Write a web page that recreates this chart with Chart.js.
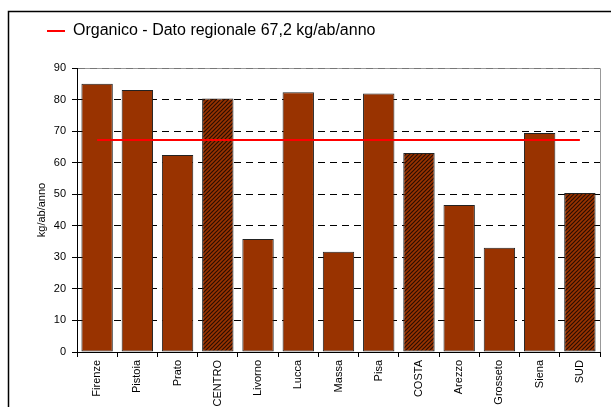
<!DOCTYPE html>
<html>
<head>
<meta charset="utf-8">
<script src="https://cdn.jsdelivr.net/npm/chart.js@4/dist/chart.umd.min.js"></script>
<style>
  html, body { margin: 0; padding: 0; background: #fff; }
  #wrap { position: relative; width: 611px; height: 407px; }
</style>
</head>
<body>
<div id="wrap"><canvas id="chart"></canvas></div>
<script>
const CATEGORIES = ['Firenze','Pistoia','Prato','CENTRO','Livorno','Lucca','Massa','Pisa','COSTA','Arezzo','Grosseto','Siena','SUD'];
const ORGANICO = [85, 83, 62.4, 80.3, 35.8, 82.3, 31.8, 81.9, 63.1, 46.6, 33.0, 69.4, 50.4];
const AREE = ['CENTRO', 'COSTA', 'SUD'];
const DATO_REGIONALE = 67.2;
const Y_TICKS = [0, 10, 20, 30, 40, 50, 60, 70, 80, 90];

const BROWN = '#993300';

// hatch pattern for the area totals
function hatch() {
  const c = document.createElement('canvas');
  c.width = 4; c.height = 4;
  const g = c.getContext('2d');
  g.fillStyle = BROWN;
  g.fillRect(0, 0, 4, 4);
  g.strokeStyle = '#2b0e00';
  g.lineWidth = 1.2;
  g.beginPath();
  g.moveTo(0, 4); g.lineTo(4, 0);
  g.moveTo(-1, 1); g.lineTo(1, -1);
  g.moveTo(3, 5); g.lineTo(5, 3);
  g.stroke();
  return g.createPattern(c, 'repeat');
}
const HATCH = hatch();

const frame = {
  id: 'frame',
  beforeDraw(chart) {
    const { ctx, chartArea: a } = chart;
    ctx.save();
    ctx.strokeStyle = '#000';
    ctx.lineWidth = 1.5;
    ctx.beginPath();
    ctx.moveTo(8.5, 407);
    ctx.lineTo(8.5, 11.5);
    ctx.lineTo(611, 11.5);
    ctx.stroke();
    ctx.strokeStyle = '#999';
    ctx.lineWidth = 1;
    ctx.beginPath();
    ctx.moveTo(a.left, Math.round(a.top) + 0.5);
    ctx.lineTo(Math.round(a.right) + 0.5, Math.round(a.top) + 0.5);
    ctx.lineTo(Math.round(a.right) + 0.5, a.bottom);
    ctx.stroke();
    ctx.restore();
  }
};

const legendGap = {
  id: 'legendGap',
  beforeInit(chart) {
    const fit = chart.legend.fit;
    chart.legend.fit = function () {
      fit.bind(chart.legend)();
      this.height += 19;
    };
  }
};

Chart.defaults.font.family = '"Liberation Sans", Arial, sans-serif';
Chart.defaults.color = '#000';

new Chart(document.getElementById('chart'), {
  data: {
    labels: CATEGORIES,
    datasets: [
      {
        type: 'line',
        label: 'Organico - Dato regionale 67,2 kg/ab/anno',
        data: CATEGORIES.map(() => DATO_REGIONALE),
        borderColor: '#ff0000',
        backgroundColor: '#ff0000',
        borderWidth: 2,
        pointRadius: 0,
        pointStyle: 'line',
        order: 0,
      },
      {
        type: 'bar',
        label: 'Organico',
        data: ORGANICO,
        backgroundColor: CATEGORIES.map(c => AREE.includes(c) ? HATCH : BROWN),
        borderColor: '#222',
        borderWidth: 1,
        borderSkipped: false,
        barPercentage: 0.78,
        categoryPercentage: 1,
        order: 1,
      }
    ]
  },
  options: {
    responsive: true,
    maintainAspectRatio: false,
    animation: false,
    layout: { padding: { left: 24, right: 11, top: 0, bottom: 0 } },
    plugins: {
      legend: {
        position: 'top',
        align: 'start',
        labels: {
          filter: item => item.datasetIndex === 0,
          usePointStyle: true,
          pointStyleWidth: 18,
          padding: 23,
          font: { size: 16 },
          color: '#000',
        }
      },
      tooltip: { enabled: false }
    },
    scales: {
      x: {
        grid: { offset: true, drawOnChartArea: false, drawTicks: true, tickLength: 5, color: '#000' },
        border: { color: '#000', width: 1 },
        ticks: { minRotation: 90, maxRotation: 90, padding: 3, font: { size: 11 }, color: '#000', autoSkip: false },
        afterFit: s => { s.height = 55; }
      },
      y: {
        min: 0,
        max: 90,
        afterBuildTicks: s => { s.ticks = Y_TICKS.map(v => ({ value: v })); },
        grid: {
          color: c => c.tick && c.tick.value === 90 ? '#777' : '#000',
          tickColor: '#000',
          tickLength: 5,
          tickBorderDash: [],
        },
        border: { color: '#000', width: 1, dash: [7, 5] },
        ticks: { padding: 6, font: { size: 11 }, color: '#000' },
        title: { display: true, text: 'kg/ab/anno', font: { size: 11 }, color: '#000', padding: { top: 11, bottom: 0 } },
        afterFit: s => { s.width = 53; }
      }
    }
  },
  plugins: [frame, legendGap]
});
</script>
</body>
</html>
